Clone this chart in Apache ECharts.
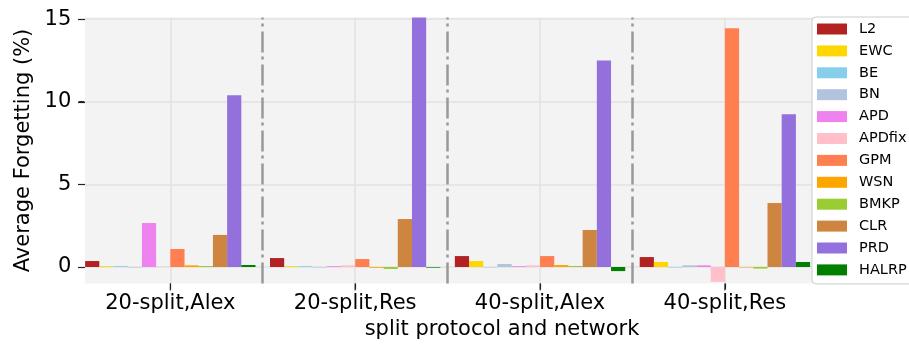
<!DOCTYPE html>
<html>
<head>
<meta charset="utf-8">
<script src="https://cdn.jsdelivr.net/npm/echarts@6/dist/echarts.min.js"></script>
<style>
  html, body { margin: 0; padding: 0; background: #ffffff; }
  #chart { width: 909px; height: 349px; }
</style>
</head>
<body>
<div id="chart"></div>
<script>
// Split protocols / backbone networks along the x axis
const categories = ['20-split,Alex', '20-split,Res', '40-split,Alex', '40-split,Res'];

// Average forgetting (%) per method, one value per category
const methods = ['L2', 'EWC', 'BE', 'BN', 'APD', 'APDfix', 'GPM', 'WSN', 'BMKP', 'CLR', 'PRD', 'HALRP'];
const L2     = [0.36, 0.54, 0.66, 0.60];
const EWC    = [0.05, 0.05, 0.36, 0.30];
const BE     = [0.05, 0.05, -0.02, -0.03];
const BN     = [-0.03, -0.03, 0.18, 0.10];
const APD    = [2.66, 0.05, 0.05, 0.10];
const APDfix = [0.02, 0.10, 0.10, -0.90];
const GPM    = [1.09, 0.48, 0.66, 14.45];
const WSN    = [0.10, -0.05, 0.12, -0.03];
const BMKP   = [0.06, -0.12, 0.06, -0.10];
const CLR    = [1.94, 2.90, 2.24, 3.87];
const PRD    = [10.40, 16.00, 12.50, 9.25];
const HALRP  = [0.12, -0.04, -0.25, 0.30];

const yTicks = [0, 5, 10, 15];
const xTicks = [0, 1, 2, 3];
const separators = [0.5, 1.5, 2.5];

const values = [L2, EWC, BE, BN, APD, APDfix, GPM, WSN, BMKP, CLR, PRD, HALRP];
const colors = ['#b22222', '#ffd700', '#87ceeb', '#b0c4de', '#ee82ee', '#ffc0cb',
                '#ff7f50', '#ffa500', '#9acd32', '#cd853f', '#9370db', '#008000'];

const FONT = 'DejaVu Sans';
const PANEL = '#f3f3f3';
const TICK = '#222222';
const chart = echarts.init(document.getElementById('chart'), null, { renderer: 'canvas' });

const series = methods.map((name, i) => ({
  name: name,
  type: 'bar',
  barWidth: 14.2,
  barGap: '0%',
  itemStyle: { color: colors[i] },
  data: values[i].map((v, k) => [xTicks[k], v])
}));

// dash-dot separators between the category groups
series.push({
  name: 'separators',
  type: 'line',
  data: [],
  silent: true,
  markLine: {
    silent: true,
    symbol: 'none',
    label: { show: false },
    lineStyle: { color: '#999999', width: 2.5, type: [21, 5, 3, 4] },
    data: separators.map(x => ({ xAxis: x }))
  }
});

// no spine on either axis; tick marks are drawn as part of the labels
const xAxisLine = { show: true, onZero: false, lineStyle: { color: TICK, width: 0 } };
const yAxisLine = { show: true, onZero: false, lineStyle: { color: TICK, width: 0 } };

chart.setOption({
  animation: false,
  textStyle: { fontFamily: FONT },
  grid: {
    left: 85, right: -10, top: 17.5, bottom: 65.5,
    show: true, backgroundColor: PANEL, borderWidth: 0,
    containLabel: false, outerBoundsMode: 'none'
  },
  legend: {
    orient: 'vertical',
    left: 812, top: 17,
    padding: [4, 30, 6, 5],
    itemWidth: 30, itemHeight: 11, itemGap: 5.9,
    icon: 'rect',
    backgroundColor: '#ffffff',
    borderColor: '#cccccc', borderWidth: 1, borderRadius: 4,
    textStyle: { fontFamily: FONT, fontSize: 14.5, color: '#000000', lineHeight: 16, padding: [0, 0, 0, 7] },
    data: methods
  },
  xAxis: {
    type: 'value',
    min: -6 / 13, max: 4.05,
    name: 'split protocol and network',
    nameLocation: 'middle', nameGap: 36,
    nameTextStyle: { fontFamily: FONT, fontSize: 21, color: '#000000' },
    axisLine: xAxisLine,
    axisTick: { show: true, customValues: xTicks, length: 6, lineStyle: { color: TICK, width: 1.2 } },
    axisLabel: {
      customValues: xTicks, margin: 0,
      // short vertical tick above each category name
      formatter: v => '{t|┃}\n{v|' + (categories[Math.round(v)] || '') + '}',
      rich: {
        t: { fontFamily: FONT, fontSize: 6, lineHeight: 8, color: TICK, verticalAlign: 'middle' },
        v: { fontFamily: FONT, fontSize: 21, lineHeight: 25, color: '#000000' }
      }
    },
    splitLine: { show: true, lineStyle: { color: '#e2e2e2', width: 1.5 } }
  },
  yAxis: {
    type: 'value',
    min: -1, max: 15.1,
    name: 'Average Forgetting (%)',
    nameLocation: 'middle', nameGap: 47,
    nameTextStyle: { fontFamily: FONT, fontSize: 21, color: '#000000' },
    axisLine: yAxisLine,
    axisTick: { show: true, customValues: yTicks, length: 7, lineStyle: { color: TICK, width: 1.2 } },
    axisLabel: {
      customValues: yTicks, margin: 0,
      // value followed by a short horizontal tick touching the panel
      formatter: v => '{v|' + v + ' }{t|–}',
      rich: {
        v: { fontFamily: FONT, fontSize: 21, color: '#000000', verticalAlign: 'middle' },
        t: { fontFamily: FONT, fontSize: 14, color: TICK, verticalAlign: 'middle' }
      }
    },
    splitLine: { show: true, lineStyle: { color: '#e2e2e2', width: 1.5 } }
  },
  series: series
});
</script>
</body>
</html>
